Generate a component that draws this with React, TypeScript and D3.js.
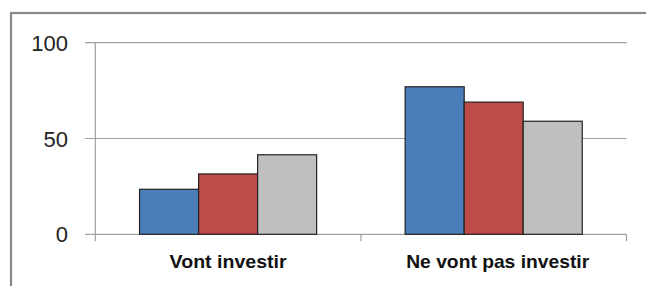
import React from "react";
import * as d3 from "d3";

const categories = ["Vont investir", "Ne vont pas investir"];
const seriesNames = ["S1", "S2", "S3"];
const series1 = [23.5, 77];
const series2 = [31.5, 69];
const series3 = [41.5, 59];
const yTicks = [0, 50, 100];
const colors = ["#4A7EBB", "#BE4B48", "#BFBFBF"];

export default function App() {
  const W = 646, H = 286;
  const x0 = 95.3, x1 = 626.5, yTop = 42.7, yBot = 234.3;
  const y = d3.scaleLinear().domain([0, 100]).range([yBot, yTop]);
  const x = d3.scaleBand<string>().domain(categories).range([x0, x1]).padding(0);
  const bw = x.bandwidth();
  const xs = d3.scaleBand<string>().domain(seriesNames).range([bw / 6, (bw * 5) / 6]).padding(0);
  const allSeries = [series1, series2, series3];
  const labelLens = [117, 183];

  return (
    <div style={{ position: "fixed", left: 0, top: 0 }}>
      <svg width={W} height={H} style={{ display: "block", background: "#fff" }}>
        <rect x={11} y={13} width={700} height={400} fill="#fff" stroke="#888" strokeWidth={2.2} />
        {yTicks.map((t) => (
          <g key={t}>
            <line x1={85} x2={x1} y1={y(t)} y2={y(t)} stroke="#A0A0A0" strokeWidth={1.2} />
            <text
              x={68}
              y={y(t) + 8}
              textAnchor="end"
              fontFamily="Liberation Sans, Arial, sans-serif"
              fontSize={22}
              fill="#222"
            >
              {t}
            </text>
          </g>
        ))}
        <line x1={x0} x2={x0} y1={yTop} y2={yBot + 7} stroke="#A0A0A0" strokeWidth={1.2} />
        {categories.map((c) => (
          <line key={c} x1={(x(c) as number) + bw} x2={(x(c) as number) + bw} y1={yBot} y2={yBot + 7} stroke="#A0A0A0" strokeWidth={1.2} />
        ))}
        {allSeries.map((vals, si) =>
          vals.map((v, ci) => {
            const c = categories[ci];
            const bx = (x(c) as number) + (xs(seriesNames[si]) as number);
            return (
              <rect
                key={si + "-" + ci}
                x={bx}
                y={y(v)}
                width={xs.bandwidth()}
                height={yBot - y(v)}
                fill={colors[si]}
                stroke="#222"
                strokeWidth={1.2}
              />
            );
          })
        )}
        {categories.map((c, i) => (
          <text
            key={c}
            x={(x(c) as number) + bw / 2 + (i === 1 ? 4 : 0)}
            y={268.3}
            textAnchor="middle"
            fontFamily="Liberation Sans, Arial, sans-serif"
            fontWeight="bold"
            fontSize={19}
            fill="#111"
            textLength={labelLens[i]}
            lengthAdjust="spacingAndGlyphs"
          >
            {c}
          </text>
        ))}
      </svg>
    </div>
  );
}
